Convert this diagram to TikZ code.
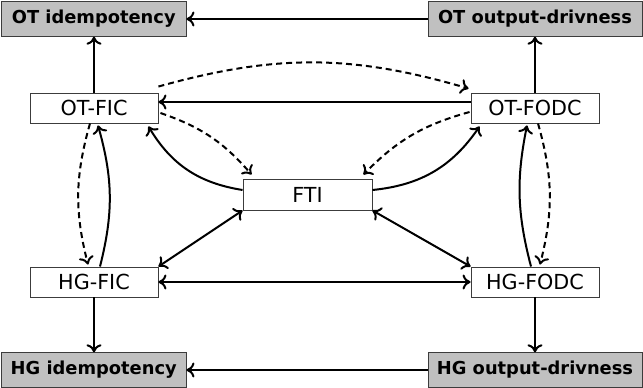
\documentclass[tikz,border=0pt]{standalone}
\usepackage{fontspec}
\setmainfont{DejaVu Sans}
\usetikzlibrary{arrows.meta}
\definecolor{boxgray}{RGB}{192,192,192}
\definecolor{edgegray}{RGB}{60,60,60}
\begin{document}
\begin{tikzpicture}[x=1pt,y=1pt,
  >={Computer Modern Rightarrow[length=8pt,width=15pt]},
  propbox/.style={draw=edgegray, line width=0.9pt, fill=boxgray, inner sep=0pt,
    minimum height=34.5pt, font=\bfseries\fontsize{17.85pt}{21pt}\selectfont},
  condbox/.style={draw=edgegray, line width=0.9pt, fill=white, inner sep=0pt,
    minimum width=128pt, minimum height=30pt, font=\fontsize{20.7pt}{24pt}\selectfont},
  conn/.style={->, line width=2pt},
  dconn/.style={conn, dash pattern=on 6pt off 4pt}]
\useasboundingbox (0,0) rectangle (643,388);

% properties
\node[propbox, minimum width=184.5pt] (OTid)  at (93.75,369) {OT idempotency};
\node[propbox, minimum width=214pt]   (OTout) at (535,369)   {OT output-drivness};
\node[propbox, minimum width=184.5pt] (HGid)  at (93.75,18)  {HG idempotency};
\node[propbox, minimum width=214pt]   (HGout) at (535,18)    {HG output-drivness};

% conditions
\node[condbox] (OTFIC)  at (94,280)  {OT-FIC};
\node[condbox] (OTFODC) at (535,280) {OT-FODC};
\node[condbox, minimum width=129pt, minimum height=31pt] (FTI) at (307.5,193.5) {FTI};
\node[condbox] (HGFIC)  at (94,106)  {HG-FIC};
\node[condbox] (HGFODC) at (535,106) {HG-FODC};

% straight implications
\draw[conn] (OTFIC.north) -- (OTFIC.north |- OTid.south);
\draw[conn] (OTFODC.north) -- (OTFODC.north |- OTout.south);
\draw[conn] (HGFIC.south) -- (HGFIC.south |- HGid.north);
\draw[conn] (HGFODC.south) -- (HGFODC.south |- HGout.north);
\draw[conn] (OTout) -- (OTid);
\draw[conn] (HGout) -- (HGid);
\draw[conn] ([yshift=6pt]OTFODC.west) -- ([yshift=6pt]OTFIC.east);
\draw[conn, <->] (HGFIC) -- (HGFODC);
\draw[conn, <->] (FTI.south west) -- (HGFIC.north east);
\draw[conn, <->] (FTI.south east) -- (HGFODC.north west);

% curved implications from FTI
\draw[conn] ([yshift=4.5pt]FTI.west) to[bend left=25] ([shift={(-10pt,-3pt)}]OTFIC.south east);
\draw[conn] ([yshift=4.5pt]FTI.east) to[bend right=25] ([shift={(9pt,-3pt)}]OTFODC.south west);

% dashed implications
\draw[dconn] ([yshift=6pt]OTFIC.north east) to[bend left=16] ([shift={(-2pt,4pt)}]OTFODC.north west);
\draw[dconn] ([shift={(2pt,-5pt)}]OTFIC.east) to[bend left=15] ([shift={(9pt,4pt)}]FTI.north west);
\draw[dconn] ([shift={(-1pt,-4pt)}]OTFODC.west) to[bend right=15] ([shift={(-9pt,4pt)}]FTI.north east);

% vertical pairs
\draw[conn] ([xshift=6pt]HGFIC.north) to[bend right=15] ([shift={(4pt,-2pt)}]OTFIC.south);
\draw[dconn] ([xshift=-4pt]OTFIC.south) to[bend right=15] ([shift={(-6pt,2pt)}]HGFIC.north);
\draw[conn] ([xshift=-4pt]HGFODC.north) to[bend left=13] ([shift={(-8pt,-2pt)}]OTFODC.south);
\draw[dconn] ([xshift=3pt]OTFODC.south) to[bend left=15] ([shift={(5pt,2pt)}]HGFODC.north);
\end{tikzpicture}
\end{document}
